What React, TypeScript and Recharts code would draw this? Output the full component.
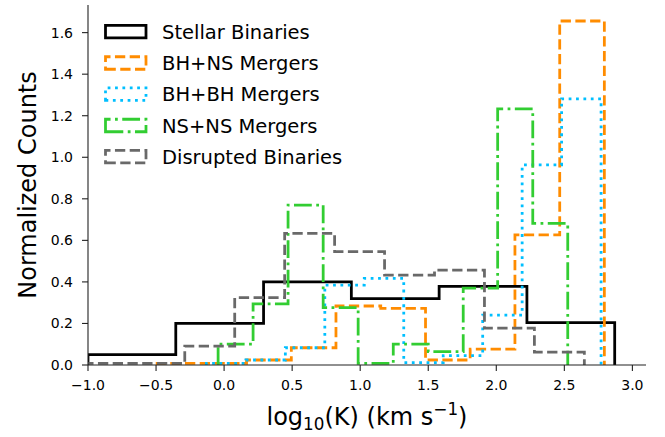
import React from 'react';
import { LineChart, Line, XAxis, YAxis, Legend, Label } from 'recharts';

// Bin edges (log10 K) and normalized counts for each population
const stellarEdges = [-1.0, -0.355, 0.29, 0.935, 1.58, 2.225, 2.87];
const stellarCounts = [0.05, 0.2, 0.4, 0.32, 0.378, 0.204];

const bhnsEdges = [-0.492, -0.164, 0.165, 0.494, 0.822, 1.151, 1.48, 1.808, 2.137, 2.466, 2.794];
const bhnsCounts = [0.008, 0.008, 0.024, 0.083, 0.284, 0.273, 0.024, 0.076, 0.626, 1.656];

const bhbhEdges = [-0.13, 0.16, 0.45, 0.74, 1.03, 1.32, 1.61, 1.9, 2.19, 2.48, 2.77];
const bhbhCounts = [0.008, 0.024, 0.083, 0.385, 0.417, 0.011, 0.045, 0.24, 0.963, 1.281];

const nsnsEdges = [-0.044, 0.213, 0.47, 0.728, 0.985, 1.243, 1.5, 1.757, 2.01, 2.268, 2.525];
const nsnsCounts = [0.1, 0.294, 0.77, 0.276, 0.008, 0.1, 0.064, 0.37, 1.233, 0.682];

const disruptedEdges = [-1.023, -0.656, -0.289, 0.078, 0.445, 0.812, 1.179, 1.546, 1.913, 2.28, 2.647];
const disruptedCounts = [0.008, 0.008, 0.091, 0.324, 0.634, 0.546, 0.433, 0.457, 0.177, 0.062];

const xTicks = [-1, -0.5, 0, 0.5, 1, 1.5, 2, 2.5, 3];
const yTicks = [0, 0.2, 0.4, 0.6, 0.8, 1.0, 1.2, 1.4, 1.6];

const FONT = 'DejaVu Sans';
const LW = 2.78;
const DASHED = '10.3 4.45';
const DOTTED = '2.78 4.6';
const DASHDOT = '17.8 4.45 2.78 4.45';

// Outline of a step histogram: rise at the first edge, walk across each bin, drop at the last edge
function toSteps(edges: number[], counts: number[]) {
  const pts: { x: number; y: number }[] = [{ x: edges[0], y: 0 }];
  counts.forEach((c, i) => pts.push({ x: edges[i], y: c }));
  pts.push({ x: edges[edges.length - 1], y: counts[counts.length - 1] });
  pts.push({ x: edges[edges.length - 1], y: 0 });
  return pts;
}

const series = [
  { name: 'Stellar Binaries', color: '#000000', dash: undefined as string | undefined, data: toSteps(stellarEdges, stellarCounts) },
  { name: 'BH+NS Mergers', color: '#ff8c00', dash: DASHED, data: toSteps(bhnsEdges, bhnsCounts) },
  { name: 'BH+BH Mergers', color: '#00bfff', dash: DOTTED, data: toSteps(bhbhEdges, bhbhCounts) },
  { name: 'NS+NS Mergers', color: '#32cd32', dash: DASHDOT, data: toSteps(nsnsEdges, nsnsCounts) },
  { name: 'Disrupted Binaries', color: '#696969', dash: DASHED, data: toSteps(disruptedEdges, disruptedCounts) },
];

const fmt = (v: number) => v.toFixed(1).replace('-', '\u2212');

const tickStyle = { fontSize: 14, fill: '#000', fontFamily: FONT };
const spine = { stroke: '#222', strokeWidth: 1.1 };

function HistLegend() {
  const rowY = [31.7, 63, 94.2, 125.5, 156.7];
  return (
    <svg width={340} height={180} style={{ display: 'block', overflow: 'visible' }}>
      {series.map((s, i) => {
        const y = rowY[i];
        const x0 = 105.5;
        const w = 40.5;
        const h = 12.5;
        return (
          <g key={s.name}>
            <path
              d={`M${x0},${y + h / 2} H${x0 + w} V${y - h / 2} H${x0} Z`}
              fill="none"
              stroke={s.color}
              strokeWidth={LW}
              strokeDasharray={s.dash}
              strokeLinejoin="miter"
              strokeLinecap="butt"
            />
            <text x={162} y={y} dy="0.36em" fontSize={19.5} fontFamily={FONT} fill="#000">
              {s.name}
            </text>
          </g>
        );
      })}
    </svg>
  );
}

function XTitle(props: any) {
  const vb = props.viewBox || { x: 88, y: 365, width: 558, height: 72 };
  const cx = vb.x + vb.width / 2;
  const by = vb.y + 60;
  return (
    <text x={cx} y={by} textAnchor="middle" fontSize={24} fontFamily={FONT} fill="#000">
      <tspan>log</tspan>
      <tspan fontSize={16.8} dy={5}>10</tspan>
      <tspan dy={-5}>(K) (km s</tspan>
      <tspan fontSize={16.8} dy={-10}>{'\u22121'}</tspan>
      <tspan dy={10}>)</tspan>
    </text>
  );
}

function YTitle(props: any) {
  const vb = props.viewBox || { x: 0, y: 5, width: 88, height: 360 };
  const x = vb.x + 36;
  const y = vb.y + vb.height / 2;
  return (
    <text
      x={x}
      y={y}
      transform={`rotate(-90, ${x}, ${y})`}
      textAnchor="middle"
      fontSize={24}
      fontFamily={FONT}
      fill="#000"
    >
      Normalized Counts
    </text>
  );
}

export default function App() {
  return (
    <div style={{ position: 'absolute', left: 0, top: 0, width: 665, height: 437, background: '#fff' }}>
      <LineChart width={665} height={437} margin={{ top: 5, right: 19, left: 0, bottom: 0 }}>
        <XAxis
          dataKey="x"
          type="number"
          domain={[-1, 3.1]}
          ticks={xTicks}
          interval={0}
          allowDataOverflow
          height={72}
          tickSize={6}
          tickMargin={9}
          tickFormatter={fmt}
          tick={tickStyle}
          axisLine={spine}
          tickLine={spine}
        >
          <Label content={<XTitle />} />
        </XAxis>
        <XAxis
          xAxisId="top"
          orientation="top"
          type="number"
          domain={[-1, 3.1]}
          height={0}
          tick={false}
          tickLine={false}
          axisLine={spine}
        />
        <YAxis
          type="number"
          domain={[0, 1.733]}
          ticks={yTicks}
          interval={0}
          allowDataOverflow
          width={88}
          tickSize={6}
          tickMargin={9}
          tickFormatter={fmt}
          tick={tickStyle}
          axisLine={spine}
          tickLine={spine}
        >
          <Label content={<YTitle />} />
        </YAxis>
        <YAxis
          yAxisId="right"
          orientation="right"
          type="number"
          domain={[0, 1.733]}
          width={0}
          tick={false}
          tickLine={false}
          axisLine={spine}
        />
        {series.map((s) => (
          <Line
            key={s.name}
            name={s.name}
            data={s.data}
            dataKey="y"
            type="stepAfter"
            stroke={s.color}
            strokeWidth={LW}
            strokeDasharray={s.dash}
            strokeLinejoin="miter"
            strokeLinecap="butt"
            dot={false}
            activeDot={false}
            isAnimationActive={false}
          />
        ))}
        <Legend
          layout="vertical"
          align="center"
          verticalAlign="middle"
          wrapperStyle={{ position: 'absolute', left: 0, top: 0, width: 340, height: 180 }}
          content={<HistLegend />}
        />
      </LineChart>
    </div>
  );
}
